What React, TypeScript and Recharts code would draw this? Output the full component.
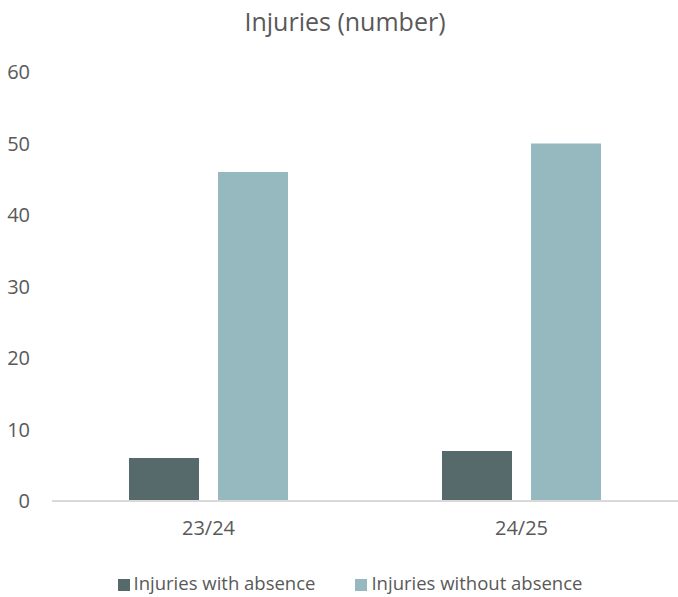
import React from "react";
import { BarChart, Bar, XAxis, YAxis, Legend } from "recharts";

const seasons = ["23/24", "24/25"];
const withAbsence = [6, 7];
const withoutAbsence = [46, 50];
const yTicks = [0, 10, 20, 30, 40, 50, 60];

const data = seasons.map((season, i) => ({
  season,
  withAbsence: withAbsence[i],
  withoutAbsence: withoutAbsence[i],
}));

const FONT = "'Open Sans', 'Noto Sans', sans-serif";
const TEXT = "#595959";

export default function App() {
  return (
    <div style={{ position: "absolute", left: 0, top: 0, width: 678, height: 597, background: "#fff", fontFamily: FONT }}>
      <div
        style={{
          position: "absolute",
          top: 4,
          left: 0,
          width: 690,
          textAlign: "center",
          fontSize: 25,
          color: TEXT,
          fontFamily: FONT,
        }}
      >
        Injuries (number)
      </div>
      <BarChart
        width={678}
        height={597}
        data={data}
        margin={{ top: 72, right: 0, left: 0, bottom: 2 }}
        barCategoryGap={77}
        barGap={19}
      >
        <XAxis
          dataKey="season"
          tickLine={false}
          axisLine={{ stroke: "#d9d9d9", strokeWidth: 2 }}
          tick={{ fill: TEXT, fontSize: 20, fontFamily: FONT }}
          tickMargin={14}
          height={69}
        />
        <YAxis
          width={52}
          domain={[0, 60]}
          ticks={yTicks}
          axisLine={false}
          tickLine={false}
          tickSize={0}
          tickMargin={22}
          tick={{ fill: TEXT, fontSize: 20, fontFamily: FONT }}
        />
        <Legend
          verticalAlign="bottom"
          iconType="square"
          iconSize={12}
          wrapperStyle={{ fontSize: 18.5, fontFamily: FONT, left: 31 }}
          formatter={(value) => <span style={{ color: TEXT, marginRight: 30 }}>{value}</span>}
        />
        <Bar dataKey="withAbsence" name="Injuries with absence" fill="#566a6c" barSize={70} isAnimationActive={false} />
        <Bar dataKey="withoutAbsence" name="Injuries without absence" fill="#96b8bf" barSize={70} isAnimationActive={false} />
      </BarChart>
    </div>
  );
}
